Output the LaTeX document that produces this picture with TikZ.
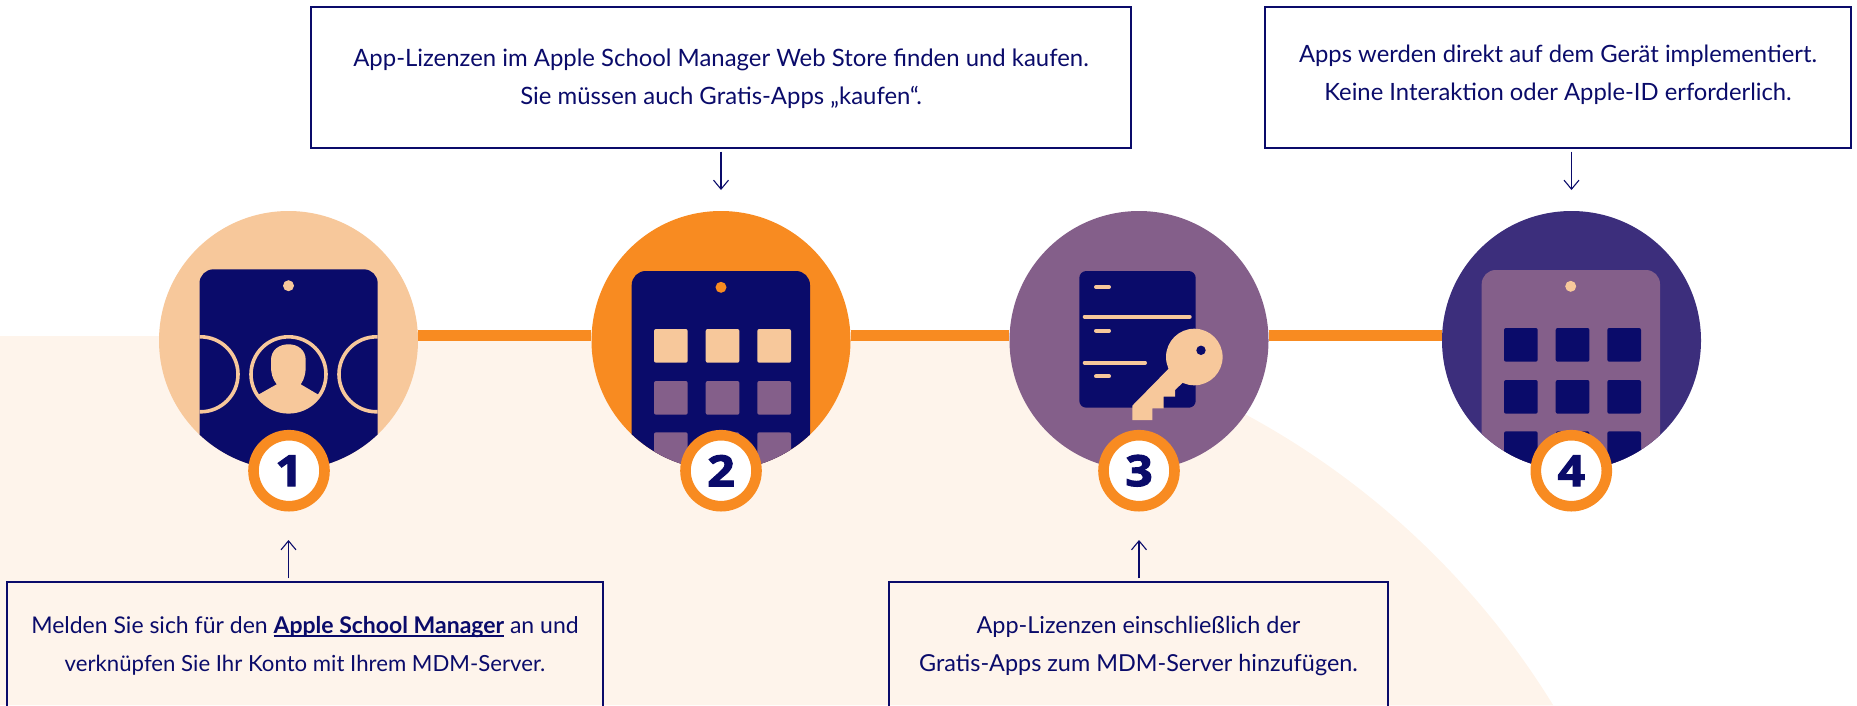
\documentclass[tikz,border=0pt]{standalone}
\usepackage{fontspec}
\usetikzlibrary{arrows.meta}
\setmainfont{Lato}
\newfontfamily\numfont[BoldFeatures={FakeBold=2.5,FakeStretch=1.12}]{Open Sans}
\newcommand\linkline[1]{\setbox0\hbox{#1}\rlap{\copy0}\rule[-3.5pt]{\wd0}{1.8pt}}
\definecolor{navy}{HTML}{0A0B6A}
\definecolor{peach}{HTML}{F7C89B}
\definecolor{cream}{HTML}{FEF4EB}
\definecolor{amber}{HTML}{F88B21}
\definecolor{plum}{HTML}{845F8A}
\definecolor{indigo}{HTML}{3C2E7C}
\tikzset{
  stepcircle/.style={circle,minimum size=259pt,inner sep=0pt},
  badge/.style={circle,minimum size=71pt,inner sep=0pt,draw=amber,line width=10.6pt,fill=white,text=navy,font=\numfont\bfseries\fontsize{43}{43}\selectfont},
  infobox/.style={rectangle,draw=navy,line width=1.1pt,inner sep=0pt},
  infotext/.style={align=center,text=navy,inner sep=0pt},
  pointer/.style={draw=navy,line width=1.1pt,-{Straight Barb[length=9pt,width=15pt]},shorten <=3pt},
  link/.style={draw=amber,line width=11pt},
  tile/.style={rounded corners=2pt}
}
\begin{document}
\begin{tikzpicture}[x=1pt,y=-1pt]
\useasboundingbox (0,0) rectangle (1857,705);
\clip (0,0) rectangle (1857,705);

%draws the background shape
\fill[cream] (0,336) -- (1036,336) arc[start angle=-77.35,end angle=-31.6,radius=817.5] -- (0,705) -- cycle;

%draws the step circles
\foreach \n/\x/\c in {1/288.5/peach,2/721/amber,3/1139/plum,4/1571.5/indigo}
    \node[stepcircle,fill=\c] (circ\n) at (\x,340.5) {};

%joins the circles
\draw[link] ([yshift=5pt]circ1.east) -- ([yshift=5pt]circ2.west);
\draw[link] ([yshift=5pt]circ2.east) -- ([yshift=5pt]circ3.west);
\draw[link] ([yshift=5pt]circ3.east) -- ([yshift=5pt]circ4.west);

%device with people
\begin{scope}
\clip (288.5,340.5) circle (129.5);
\fill[navy,rounded corners=14pt] (199.5,269.3) rectangle (377.7,520);
\fill[peach] (288.5,285.7) circle (5.5);
\begin{scope}
\clip (199.5,269.3) rectangle (377.7,520);
\foreach \x in {200.5,288.5,376.5}
    \draw[peach,line width=3.6pt] (\x,374.3) circle (37.5);
\end{scope}
\begin{scope}
\clip (288.5,374.3) circle (37.5);
\fill[peach] (250,399) -- (259,394.3) -- (276.7,384.3) .. controls (272.5,379) and (271,373) .. (271,366.7) -- (271,360)
    .. controls (271,350) and (279,344.3) .. (288.5,344.3) .. controls (298,344.3) and (305.7,350) .. (305.7,360) -- (305.7,366.7)
    .. controls (305.7,373) and (304.5,379) .. (300.7,384.3) -- (317.7,394.3) -- (327,399) -- (327,420) -- (250,420) -- cycle;
\end{scope}
\end{scope}

%device with bought apps
\begin{scope}
\clip (721,340.5) circle (129.5);
\fill[navy,rounded corners=14pt] (631.7,271) rectangle (810,520);
\fill[amber] (721,287.3) circle (5.5);
\foreach \x in {654,705.7,757.3}{
    \fill[peach,tile] (\x,329) rectangle ++(33.7,33.7);
    \fill[plum,tile] (\x,381) rectangle ++(33.7,33.7);
    \fill[plum,tile] (\x,432.3) rectangle ++(33.7,33.7);
}
\end{scope}

%document and key
\fill[navy,rounded corners=7pt] (1079.3,271) rectangle (1195.7,407.7);
\foreach \y in {287,330.7,376.3}
    \draw[peach,line width=4pt,line cap=round] (1096,\y) -- (1109,\y);
\draw[peach,line width=4pt,line cap=round] (1084.7,316.7) -- (1189.7,316.7);
\draw[peach,line width=4pt,line cap=round] (1084.7,362.7) -- (1145,362.7);
\fill[peach] (1194.3,357) circle (28.3);
\fill[peach] (1168.3,369) -- (1132.3,405.7) -- (1132.3,420) -- (1152.3,420) -- (1152.3,408.3) -- (1163.7,408.3) -- (1163.7,396.7)
    -- (1175,396.7) -- (1175,390) -- (1182.7,382.7) -- (1190,360) -- cycle;
\fill[navy] (1201,350.3) circle (4.7);

%device with installed apps
\begin{scope}
\clip (1571.5,340.5) circle (129.5);
\fill[plum,rounded corners=14pt] (1481.7,270) rectangle (1660,520);
\fill[peach] (1570.7,286.3) circle (5.5);
\foreach \x in {1504,1555.7,1607.3}
    \foreach \y in {328,380,431.3}
        \fill[navy,tile] (\x,\y) rectangle ++(33.7,33.7);
\end{scope}

%number badges
\foreach \n/\x in {1/289,2/721,3/1139,4/1571.3}
    \node[badge] (num\n) at (\x,470.7) {\n};

%text boxes
\node[infobox,minimum width=596pt,minimum height=141pt] (box1) at (305,652.5) {};
\node[infobox,minimum width=820pt,minimum height=141pt] (box2) at (721,77.5) {};
\node[infobox,minimum width=499pt,minimum height=141pt] (box3) at (1138.5,652.5) {};
\node[infobox,minimum width=586pt,minimum height=141pt] (box4) at (1558,77.5) {};

\node[infotext,font=\fontsize{22.2}{38}\selectfont] (text1) at (305,646) {\fontsize{23}{38}\selectfont Melden Sie sich für den \linkline{\textbf{Apple School Manager}} an und\\verknüpfen Sie Ihr Konto mit Ihrem MDM-Server.};
\node[infotext,font=\fontsize{23.9}{38}\selectfont] (text2) at (721,78.5) {App-Lizenzen im Apple School Manager Web Store finden und kaufen.\\Sie müssen auch Gratis-Apps „kaufen“.};
\node[infotext,font=\fontsize{23.4}{38}\selectfont] (text3) at (1138.5,646) {App-Lizenzen einschließlich der\\Gratis-Apps zum MDM-Server hinzufügen.};
\node[infotext,font=\fontsize{23.8}{38}\selectfont] (text4) at (1558,74.5) {Apps werden direkt auf dem Gerät implementiert.\\Keine Interaktion oder Apple-ID erforderlich.};

%arrows
\coordinate (tip1) at (288.5,540);
\coordinate (tip2) at (721,190);
\coordinate (tip3) at (1139,540);
\coordinate (tip4) at (1571.5,190);
\draw[pointer] (tip1 |- box1.north) -- (tip1);
\draw[pointer] (tip2 |- box2.south) -- (tip2);
\draw[pointer] (tip3 |- box3.north) -- (tip3);
\draw[pointer] (tip4 |- box4.south) -- (tip4);

\end{tikzpicture}
\end{document}
